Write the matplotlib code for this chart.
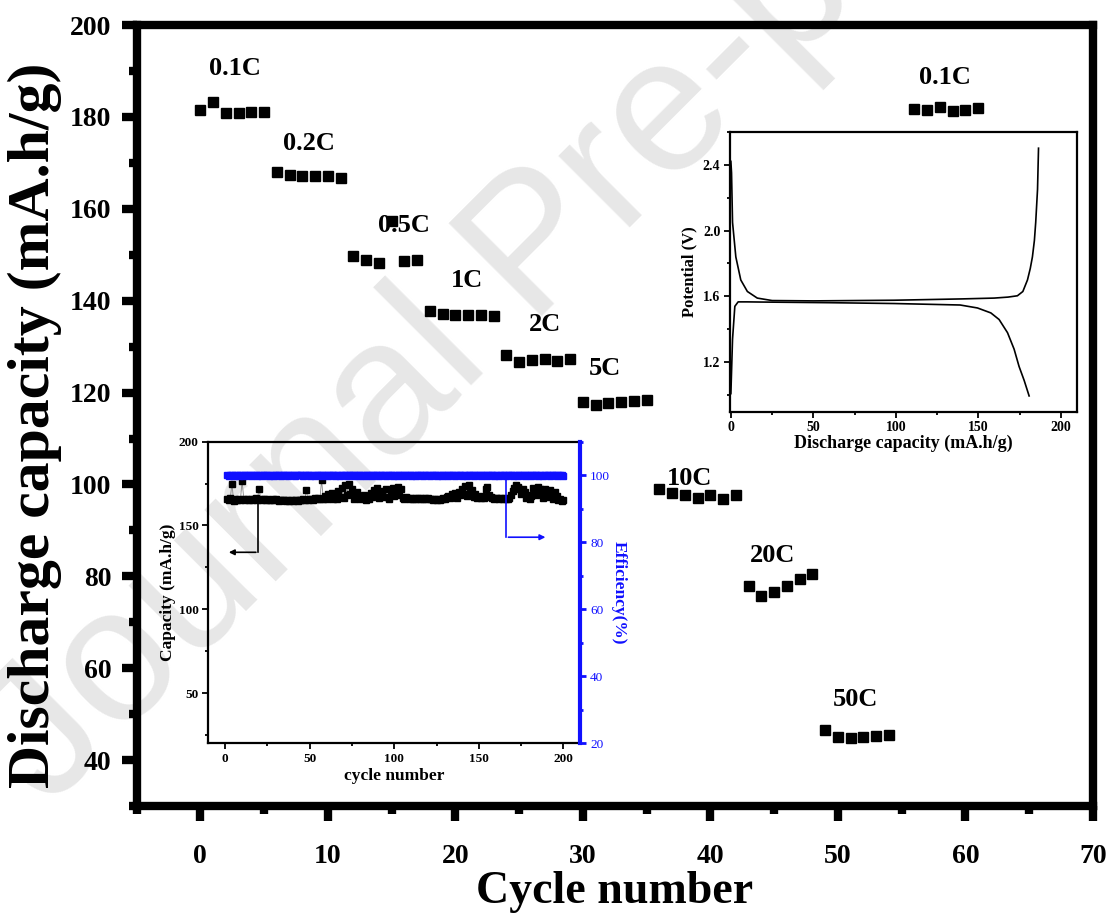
import matplotlib
matplotlib.use("Agg")
import matplotlib.pyplot as plt
from matplotlib.ticker import MultipleLocator

plt.rcParams['font.family'] = ['Liberation Serif', 'DejaVu Serif']
plt.rcParams['font.weight'] = 'bold'

# main rate test: cycle number -> discharge capacity (mA.h/g)
rate_cycles = list(range(0, 55)) + list(range(56, 62))
rate_capacity = [
    181.4, 183.2, 180.9, 180.9, 181.1, 181.1,          # 0.1C
    167.9, 167.4, 167.2, 167.1, 167.1, 166.8,          # 0.2C
    149.8, 148.8, 148.3, 157.3, 148.6, 148.8,          # 0.5C
    137.7, 137.0, 136.9, 136.9, 136.8, 136.6,          # 1C
    128.2, 126.6, 127.0, 127.2, 126.8, 127.3,          # 2C
    118.0, 117.3, 117.7, 117.9, 118.1, 118.3,          # 5C
    99.1, 98.1, 97.7, 97.0, 97.7, 96.8, 97.8,          # 10C
    77.8, 75.8, 76.5, 77.9, 79.4, 80.5,                # 20C
    46.6, 45.0, 44.9, 45.0, 45.2, 45.5,                # 50C
    181.8, 181.6, 182.1, 181.3, 181.6, 181.9,          # 0.1C
]
rate_names = ['0.1C', '0.2C', '0.5C', '1C', '2C', '5C', '10C', '20C', '50C', '0.1C']
rate_label_x = [2.75, 8.5, 16.0, 20.9, 27.0, 31.7, 38.4, 44.9, 51.4, 58.4]
rate_label_y = [190.6, 174.2, 156.3, 144.3, 134.9, 125.3, 101.4, 84.5, 53.3, 188.6]

# inset 1: long cycling
long_cycles = list(range(1, 201))
long_capacity = [
    166.0, 165.5, 166.2, 175.0, 164.5, 166.0, 165.2, 166.1, 165.4, 176.5,
    165.8, 165.2, 166.0, 165.5, 165.9, 165.0, 165.6, 166.2, 165.1, 172.0,
    166.0, 165.5, 165.8, 165.2, 166.0, 165.4, 165.0, 165.6, 165.2, 165.8,
    165.1, 164.8, 165.5, 165.0, 165.3, 164.9, 165.4, 164.7, 165.2, 164.9,
    165.3, 165.0, 164.8, 165.4, 165.1, 165.6, 165.0, 171.0, 165.2, 165.6,
    166.0, 165.3, 166.4, 165.8, 166.5, 165.7, 177.0, 166.0, 167.5, 165.6,
    168.5, 166.2, 169.5, 166.0, 168.0, 165.8, 170.5, 167.0, 172.5, 166.5,
    174.0, 168.0, 175.0, 169.0, 172.0, 166.0, 168.5, 170.0, 167.0, 165.8,
    166.3, 168.0, 165.5, 167.2, 166.0, 169.5, 167.0, 171.0, 168.2, 172.5,
    166.5, 168.0, 170.5, 166.8, 171.5, 167.0, 165.6, 169.0, 172.5, 167.5,
    170.0, 173.0, 168.0, 172.0, 166.5, 166.0, 167.0, 166.2, 165.8, 166.5,
    166.0, 166.6, 165.9, 166.4, 165.7, 166.2, 165.8, 166.5, 165.9, 166.2,
    165.6, 166.0, 165.5, 165.9, 165.4, 165.8, 165.5, 165.9, 166.3, 165.6,
    166.8, 167.5, 166.2, 168.5, 167.0, 169.5, 166.5, 170.0, 168.0, 172.0,
    169.0, 173.5, 167.5, 174.0, 169.5, 171.0, 167.0, 168.5, 166.5, 167.0,
    166.2, 167.5, 166.5, 172.0, 173.0, 168.0, 167.0, 166.5, 166.0, 166.5,
    166.2, 166.0, 166.5, 166.0, 166.3, 165.8, 166.0, 166.5, 168.0, 170.5,
    172.5, 174.0, 173.0, 171.5, 169.0, 172.0, 170.0, 166.5, 168.0, 165.8,
    167.5, 172.5, 170.0, 168.0, 173.0, 171.5, 169.0, 166.5, 172.0, 170.5,
    167.0, 171.0, 168.5, 166.0, 170.0, 167.5, 165.5, 166.0, 164.8, 165.0,
]
long_efficiency = [
    100.0, 99.9, 100.0, 100.1, 99.9, 100.0, 100.0, 99.9, 100.1, 100.0,
    99.9, 100.0, 100.1, 100.0, 99.9, 100.0, 100.0, 100.1, 99.9, 100.0,
    100.0, 99.9, 100.0, 100.0, 100.1, 99.9, 100.0, 100.0, 99.9, 100.1,
    100.0, 100.0, 99.9, 100.0, 100.1, 100.0, 99.9, 100.0, 100.0, 100.1,
    99.9, 100.0, 100.0, 100.1, 100.0, 99.9, 100.0, 100.0, 100.1, 99.9,
    100.0, 100.0, 99.9, 100.1, 100.0, 100.0, 99.9, 100.0, 100.1, 100.0,
    99.9, 100.0, 100.0, 100.1, 99.9, 100.0, 100.0, 99.9, 100.1, 100.0,
    100.0, 99.9, 100.0, 100.1, 100.0, 99.9, 100.0, 100.0, 100.1, 99.9,
    100.0, 100.0, 99.9, 100.0, 100.1, 100.0, 99.9, 100.0, 100.0, 100.1,
    99.9, 100.0, 100.1, 100.0, 99.9, 100.0, 100.0, 100.1, 99.9, 100.0,
    100.0, 99.9, 100.0, 100.1, 100.0, 99.9, 100.0, 100.0, 100.1, 99.9,
    100.0, 100.0, 99.9, 100.1, 100.0, 100.0, 99.9, 100.0, 100.1, 100.0,
    99.9, 100.0, 100.0, 100.1, 99.9, 100.0, 100.0, 99.9, 100.1, 100.0,
    100.0, 99.9, 100.0, 100.1, 100.0, 99.9, 100.0, 100.0, 100.1, 99.9,
    100.0, 100.0, 99.9, 100.0, 100.1, 100.0, 99.9, 100.0, 100.0, 100.1,
    99.9, 100.0, 100.1, 100.0, 99.9, 100.0, 100.0, 100.1, 99.9, 100.0,
    100.0, 99.9, 100.0, 100.1, 100.0, 99.9, 100.0, 100.0, 100.1, 99.9,
    100.0, 100.0, 99.9, 100.1, 100.0, 100.0, 99.9, 100.0, 100.1, 100.0,
    99.9, 100.0, 100.0, 100.1, 99.9, 100.0, 100.0, 99.9, 100.1, 100.0,
    100.0, 99.9, 100.0, 100.1, 100.0, 99.9, 100.0, 100.0, 100.1, 99.9,
]

# inset 2: charge / discharge profile at 0.1C
charge_cap = [0.0, 0.4, 1.0, 3.0, 6.0, 10.0, 16.0, 25.0, 50.0, 99.0, 140.0, 159.6,
              168.0, 173.7, 177.0, 179.8, 181.5, 182.8, 184.0, 184.8, 185.9, 186.5]
charge_v = [2.42, 2.35, 2.05, 1.84, 1.70, 1.63, 1.59, 1.575, 1.573, 1.577, 1.585, 1.59,
            1.596, 1.604, 1.63, 1.70, 1.77, 1.84, 1.94, 2.05, 2.25, 2.50]
discharge_cap = [0.0, 1.0, 2.4, 4.4, 10.0, 18.0, 60.0, 99.0, 139.0, 149.5, 157.6,
                 162.6, 167.7, 171.7, 174.7, 177.8, 180.8]
discharge_v = [1.01, 1.34, 1.54, 1.567, 1.567, 1.566, 1.562, 1.557, 1.548, 1.53, 1.50,
               1.46, 1.38, 1.28, 1.175, 1.09, 0.996]

fig = plt.figure(figsize=(11.09, 9.16), dpi=100)

# watermark behind everything
fig.text(0.044, 0.117, 'Journal Pre-proof', family='Liberation Sans', fontweight='normal',
         fontsize=138, color='#e7e7e7', rotation=45, rotation_mode='anchor',
         ha='left', va='baseline', zorder=-5)

# ---- main axes ----
ax = fig.add_axes([0.1231, 0.120, 0.8625, 0.8527])
ax.set_facecolor('none')
ax.plot(rate_cycles, rate_capacity, 's', color='black', markersize=7, zorder=3)
for name, tx, ty in zip(rate_names, rate_label_x, rate_label_y):
    ax.text(tx, ty, name, ha='center', va='center', fontsize=19, fontweight='bold')

ax.set_xlim(-5, 70)
ax.set_ylim(30, 200)
ax.xaxis.set_major_locator(MultipleLocator(10))
ax.xaxis.set_minor_locator(MultipleLocator(5))
ax.yaxis.set_major_locator(MultipleLocator(20))
ax.yaxis.set_minor_locator(MultipleLocator(10))
ax.set_yticks([40, 60, 80, 100, 120, 140, 160, 180, 200])
for s in ax.spines.values():
    s.set_linewidth(6)
ax.tick_params(which='major', direction='out', length=11, width=6, labelsize=20)
ax.tick_params(which='minor', direction='out', length=6, width=6)
ax.tick_params(axis='x', which='major', pad=16)
ax.tick_params(axis='y', which='major', pad=7)
ax.tick_params(top=False, right=False, which='both')
for lab in ax.get_xticklabels() + ax.get_yticklabels():
    lab.set_fontweight('bold')
ax.set_xlabel('Cycle number', fontsize=33, fontweight='bold')
ax.set_ylabel('Discharge capacity (mA.h/g)', fontsize=43, fontweight='bold')
ax.xaxis.set_label_coords(0.5, -0.083)
ax.yaxis.set_label_coords(-0.078, 0.488)

# ---- inset 1: long cycling ----
ax1 = fig.add_axes([0.1878, 0.1885, 0.3355, 0.3293])
ax1.set_facecolor('none')
ax1.plot(long_cycles, long_capacity, '-', color='#888888', lw=0.6, zorder=2)
ax1.plot(long_cycles, long_capacity, 's', color='black', markersize=3.8, zorder=3)
ax1.set_xlim(-10, 210)
ax1.set_ylim(20, 200)
ax1.xaxis.set_major_locator(MultipleLocator(50))
ax1.xaxis.set_minor_locator(MultipleLocator(25))
ax1.set_yticks([50, 100, 150, 200])
ax1.yaxis.set_minor_locator(MultipleLocator(25))
ax1.tick_params(which='major', direction='out', length=4, width=1.3, labelsize=9.5, pad=3)
ax1.tick_params(which='minor', direction='out', length=2.5, width=1.3)
for s in ax1.spines.values():
    s.set_linewidth(1.6)
ax1.spines['right'].set_visible(False)
for lab in ax1.get_xticklabels() + ax1.get_yticklabels():
    lab.set_fontweight('bold')
ax1.set_xlabel('cycle number', fontsize=12.5, fontweight='bold', labelpad=2)
ax1.set_ylabel('Capacity (mA.h/g)', fontsize=12.5, fontweight='bold', labelpad=2)
ax1.plot([19.5, 19.5], [163, 134], color='black', lw=1.2)
ax1.annotate('', xy=(0.5, 134), xytext=(19.8, 134),
             arrowprops=dict(arrowstyle='-|>', color='black', lw=1.2, mutation_scale=8))

ax1r = ax1.twinx()
ax1r.plot(long_cycles, long_efficiency, 's-', color='#1010ff', markersize=3.8, lw=1.5)
ax1r.set_ylim(20, 110)
ax1r.yaxis.set_major_locator(MultipleLocator(20))
ax1r.yaxis.set_minor_locator(MultipleLocator(10))
ax1r.set_yticks([20, 40, 60, 80, 100])
for k in ['left', 'top', 'bottom']:
    ax1r.spines[k].set_visible(False)
ax1r.spines['right'].set_color('#1010ff')
ax1r.spines['right'].set_linewidth(3)
ax1r.tick_params(which='major', direction='out', length=4, width=2, colors='#1010ff',
                 labelsize=9.5, pad=3)
ax1r.tick_params(which='minor', direction='out', length=2.5, width=2, colors='#1010ff')
for lab in ax1r.get_yticklabels():
    lab.set_fontweight('normal')
ax1r.set_ylabel('Efficiency(%)', fontsize=12.5, fontweight='bold', color='#1010ff',
                rotation=270, labelpad=12)
ax1r.plot([166, 166], [100, 81.5], color='#1010ff', lw=1.2)
ax1r.annotate('', xy=(191, 81.5), xytext=(165.8, 81.5),
              arrowprops=dict(arrowstyle='-|>', color='#1010ff', lw=1.2, mutation_scale=8))

# ---- inset 2: voltage profile ----
ax2 = fig.add_axes([0.6583, 0.5505, 0.3131, 0.3057])
ax2.set_facecolor('white')
ax2.plot(charge_cap, charge_v, color='black', lw=1.2)
ax2.plot(discharge_cap, discharge_v, color='black', lw=1.2)
ax2.set_xlim(-0.5, 210)
ax2.set_ylim(0.9, 2.6)
ax2.xaxis.set_major_locator(MultipleLocator(50))
ax2.xaxis.set_minor_locator(MultipleLocator(25))
ax2.set_yticks([1.2, 1.6, 2.0, 2.4])
ax2.yaxis.set_minor_locator(MultipleLocator(0.2))
ax2.tick_params(which='major', direction='out', length=4, width=1.3, labelsize=10, pad=3)
ax2.tick_params(which='minor', direction='out', length=2.5, width=1.3)
for s in ax2.spines.values():
    s.set_linewidth(1.6)
for lab in ax2.get_xticklabels() + ax2.get_yticklabels():
    lab.set_fontweight('bold')
ax2.set_xlabel('Discharge capacity (mA.h/g)', fontsize=13, fontweight='bold', labelpad=0)
ax2.set_ylabel('Potential (V)', fontsize=12, fontweight='bold', labelpad=4)

fig.savefig('out.png', dpi=100)
